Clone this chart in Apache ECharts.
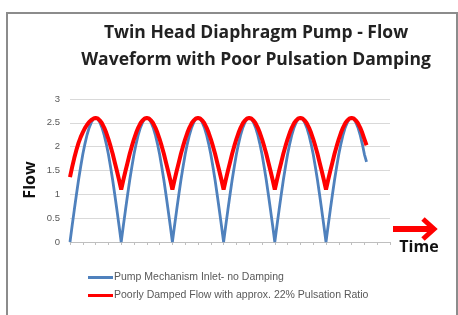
<!DOCTYPE html>
<html>
<head>
<meta charset="utf-8">
<script src="https://cdn.jsdelivr.net/npm/echarts@6/dist/echarts.min.js"></script>
<style>html,body{margin:0;padding:0;background:#fff}#c{width:458px;height:315px}</style>
</head>
<body>
<div id="c"></div>
<script>
const titleLines = ['Twin Head Diaphragm Pump - Flow', 'Waveform with Poor Pulsation Damping'];
const yTicks = [0, 0.5, 1, 1.5, 2, 2.5, 3];
const seriesNames = ['Pump Mechanism Inlet- no Damping', 'Poorly Damped Flow with approx. 22% Pulsation Ratio'];
const timeSteps = [0,1,2,3,4,5,6,7,8,9,10,11,12,13,14,15,16,17,18,19,20,21,22,23,24,25,26,27,28,29,30,31,32,33,34,35,36,37,38,39,40,41,42,43,44,45,46,47,48,49,50,51,52,53,54,55,56,57,58,59,60,61,62,63,64,65,66,67,68,69,70,71,72,73,74,75,76,77,78,79,80,81,82,83,84,85,86,87,88,89,90,91,92,93,94,95,96,97,98,99,100,101,102,103,104,105,106,107,108,109,110,111,112,113,114,115,116,117,118,119,120,121,122,123,124,125,126,127,128,129,130,131,132,133,134,135,136,137,138,139,140,141,142,143,144,145,146,147,148,149,150];
const inletFlow = [
0,0.34,0.67,0.99,1.3,1.58,1.84,2.06,2.25,2.4,2.51,2.58,2.6,2.58,2.51,2.4,2.25,2.06,1.84,1.58,1.3,0.99,0.67,0.34,
0,0.34,0.67,0.99,1.3,1.58,1.84,2.06,2.25,2.4,2.51,2.58,2.6,2.58,2.51,2.4,2.25,2.06,1.84,1.58,1.3,0.99,0.67,0.34,
0,0.34,0.67,0.99,1.3,1.58,1.84,2.06,2.25,2.4,2.51,2.58,2.6,2.58,2.51,2.4,2.25,2.06,1.84,1.58,1.3,0.99,0.67,0.34,
0,0.34,0.67,0.99,1.3,1.58,1.84,2.06,2.25,2.4,2.51,2.58,2.6,2.58,2.51,2.4,2.25,2.06,1.84,1.58,1.3,0.99,0.67,0.34,
0,0.34,0.67,0.99,1.3,1.58,1.84,2.06,2.25,2.4,2.51,2.58,2.6,2.58,2.51,2.4,2.25,2.06,1.84,1.58,1.3,0.99,0.67,0.34,
0,0.34,0.67,0.99,1.3,1.58,1.84,2.06,2.25,2.4,2.51,2.58,2.6,2.58,2.51,2.4,2.25,2.06,1.84,1.68];
const dampedFlow = [
1.36,1.57,1.76,1.93,2.08,2.2,2.3,2.39,2.46,2.52,2.56,2.59,2.6,2.59,2.55,2.49,2.4,2.29,2.16,2.01,1.85,1.67,1.49,1.3,
1.1,1.3,1.49,1.67,1.85,2.01,2.16,2.29,2.4,2.49,2.55,2.59,2.6,2.59,2.55,2.49,2.4,2.29,2.16,2.01,1.85,1.67,1.49,1.3,
1.1,1.3,1.49,1.67,1.85,2.01,2.16,2.29,2.4,2.49,2.55,2.59,2.6,2.59,2.55,2.49,2.4,2.29,2.16,2.01,1.85,1.67,1.49,1.3,
1.1,1.3,1.49,1.67,1.85,2.01,2.16,2.29,2.4,2.49,2.55,2.59,2.6,2.59,2.55,2.49,2.4,2.29,2.16,2.01,1.85,1.67,1.49,1.3,
1.1,1.3,1.49,1.67,1.85,2.01,2.16,2.29,2.4,2.49,2.55,2.59,2.6,2.59,2.55,2.49,2.4,2.29,2.16,2.01,1.85,1.67,1.49,1.3,
1.1,1.3,1.49,1.67,1.85,2.01,2.16,2.29,2.4,2.49,2.55,2.59,2.6,2.59,2.55,2.49,2.4,2.29,2.16,2.03];

const chart = echarts.init(document.getElementById('c'), null, {renderer: 'canvas'});
const titleFont = '"Open Sans", "Noto Sans", sans-serif';
chart.setOption({
  animation: false,
  backgroundColor: '#fff',
  grid: {left: 70, right: 68, top: 99, bottom: 73, containLabel: false},
  legend: {
    orient: 'vertical', left: 83, top: 267, itemWidth: 25, itemHeight: 3, itemGap: 7,
    icon: 'rect',
    textStyle: {fontSize: 10.5, color: '#595959', fontFamily: 'Liberation Sans, sans-serif', padding: [0,0,0,-4]},
    data: seriesNames
  },
  xAxis: {
    type: 'category', data: timeSteps, boundaryGap: false,
    axisLine: {lineStyle: {color: '#bfbfbf', width: 1}},
    axisTick: {interval: 5, length: 3, lineStyle: {color: '#bfbfbf'}},
    axisLabel: {show: false}, splitLine: {show: false}
  },
  yAxis: {
    type: 'value', min: yTicks[0], max: yTicks[yTicks.length - 1], interval: 0.5,
    axisLine: {show: false}, axisTick: {show: false},
    axisLabel: {fontSize: 9.5, color: '#595959', margin: 10, fontFamily: 'Liberation Sans, sans-serif'},
    splitLine: {lineStyle: {color: '#d9d9d9', width: 1}}
  },
  series: [
    {name: seriesNames[0], type: 'line', data: inletFlow, showSymbol: false, symbol: 'none',
     lineStyle: {color: '#4f81bd', width: 2.8}, itemStyle: {color: '#4f81bd'}, z: 2},
    {name: seriesNames[1], type: 'line', data: dampedFlow, showSymbol: false, symbol: 'none',
     lineStyle: {color: '#ff0000', width: 4}, itemStyle: {color: '#ff0000'}, z: 3}
  ],
  graphic: [
    {type: 'polyline', shape: {points: [[7, 340], [7, 13], [457, 13], [457, 340]]}, style: {fill: 'none', stroke: '#8c8c8c', lineWidth: 2}, silent: true},
    {type: 'text', x: 256, y: 33, style: {text: titleLines[0], align: 'center', verticalAlign: 'middle', font: 'bold 17.5px ' + titleFont, fill: '#222'}},
    {type: 'text', x: 256, y: 60, style: {text: titleLines[1], align: 'center', verticalAlign: 'middle', font: 'bold 17.5px ' + titleFont, fill: '#222'}},
    {type: 'text', x: 30, y: 180, rotation: Math.PI / 2, style: {text: 'Flow', align: 'center', verticalAlign: 'middle', font: 'bold 16px ' + titleFont, fill: '#111'}},
    {type: 'text', x: 419, y: 247, style: {text: 'Time', align: 'center', verticalAlign: 'middle', font: 'bold 16px ' + titleFont, fill: '#111'}},
    {type: 'polyline', shape: {points: [[393, 229], [432, 229]]}, style: {stroke: '#ff0000', lineWidth: 6, fill: 'none'}},
    {type: 'polyline', shape: {points: [[423, 219], [434, 229], [423, 239]]}, style: {stroke: '#ff0000', lineWidth: 5, fill: 'none', lineJoin: 'miter'}}
  ]
});
</script>
</body>
</html>
